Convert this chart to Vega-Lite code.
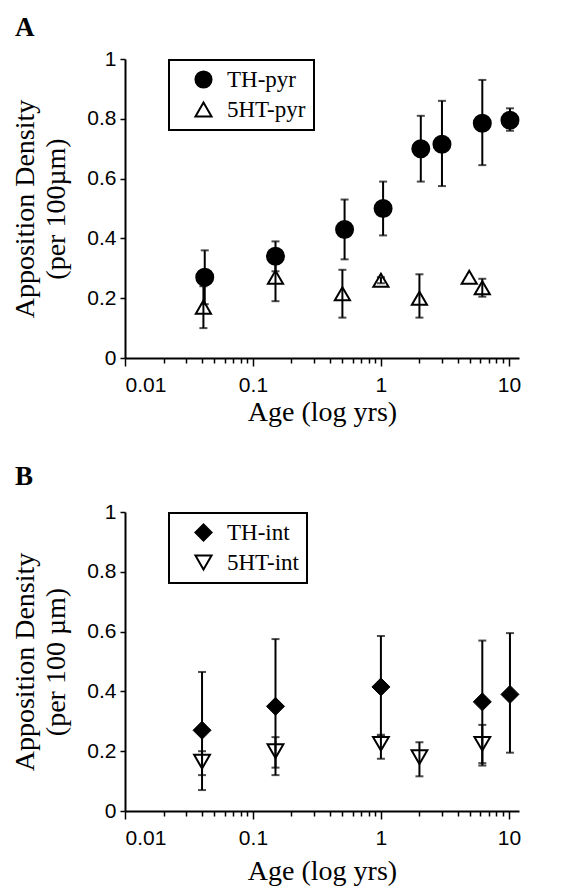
{
  "$schema": "https://vega.github.io/schema/vega-lite/v6.json",
  "background": "white",
  "padding": {"left": 11, "top": 14, "right": 5, "bottom": 5},
  "spacing": 37,
  "resolve": {"scale": {"shape": "independent", "fill": "independent", "stroke": "independent"}, "legend": {"shape": "independent", "fill": "independent", "stroke": "independent"}},
  "config": {
    "view": {"stroke": null},
    "font": "Liberation Serif",
    "axis": {"domainColor": "black", "domainWidth": 2, "tickColor": "black", "tickWidth": 1.5, "labelFont": "Liberation Sans", "labelFontSize": 21, "labelColor": "black", "titleFont": "Liberation Serif", "titleFontSize": 28, "titleFontWeight": "normal", "titleColor": "black", "grid": false, "labelOverlap": false},
    "title": {"font": "Liberation Serif", "fontSize": 27, "fontWeight": "bold", "anchor": "start", "color": "black", "frame": "group"},
    "legend": {"orient": "none", "legendX": 44, "legendY": 1, "title": null, "padding": 8, "strokeColor": "black", "strokeWidth": 2, "fillColor": "white", "labelFont": "Liberation Serif", "labelFontSize": 23, "labelColor": "black", "symbolSize": 260, "symbolStrokeWidth": 2, "symbolStrokeColor": "black", "rowPadding": 6, "labelOffset": 12, "symbolOffset": 15}
  },
  "vconcat": [
    {
      "title": {"text": "A", "dx": -110, "offset": 6},
      "width": 394,
      "height": 299,
      "data": {"values": [
        {"series": "TH-pyr", "age": 0.042, "val": 0.27, "lo": 0.18, "hi": 0.36},
        {"series": "TH-pyr", "age": 0.15, "val": 0.34, "lo": 0.29, "hi": 0.39},
        {"series": "TH-pyr", "age": 0.52, "val": 0.43, "lo": 0.33, "hi": 0.53},
        {"series": "TH-pyr", "age": 1.04, "val": 0.5, "lo": 0.41, "hi": 0.59},
        {"series": "TH-pyr", "age": 2.05, "val": 0.7, "lo": 0.59, "hi": 0.81},
        {"series": "TH-pyr", "age": 3.0, "val": 0.715, "lo": 0.575, "hi": 0.86},
        {"series": "TH-pyr", "age": 6.2, "val": 0.785, "lo": 0.645, "hi": 0.93},
        {"series": "TH-pyr", "age": 10.2, "val": 0.795, "lo": 0.76, "hi": 0.835},
        {"series": "5HT-pyr", "age": 0.041, "val": 0.17, "lo": 0.1, "hi": 0.24},
        {"series": "5HT-pyr", "age": 0.15, "val": 0.27, "lo": 0.19, "hi": 0.35},
        {"series": "5HT-pyr", "age": 0.5, "val": 0.215, "lo": 0.135, "hi": 0.295},
        {"series": "5HT-pyr", "age": 1.0, "val": 0.26, "lo": 0.25, "hi": 0.27},
        {"series": "5HT-pyr", "age": 2.0, "val": 0.2, "lo": 0.135, "hi": 0.28},
        {"series": "5HT-pyr", "age": 4.9, "val": 0.27, "lo": null, "hi": null},
        {"series": "5HT-pyr", "age": 6.2, "val": 0.235, "lo": 0.205, "hi": 0.265}
      ]},
      "encoding": {
        "x": {"field": "age", "type": "quantitative", "scale": {"type": "log", "domain": [0.01, 12], "nice": false},
          "axis": {"title": "Age (log yrs)", "values": [0.01,0.02,0.03,0.04,0.05,0.06,0.07,0.08,0.09,0.1,0.2,0.3,0.4,0.5,0.6,0.7,0.8,0.9,1,2,3,4,5,6,7,8,9,10],
            "labelExpr": "datum.value == 0.01 ? '0.01' : datum.value == 0.1 ? '0.1' : datum.value == 1 ? '1' : datum.value == 10 ? '10' : ''",
            "tickSize": {"condition": {"test": "datum.value == 0.01 || datum.value == 0.1 || datum.value == 1 || datum.value == 10", "value": 8}, "value": 5},
            "labelPadding": 8, "titlePadding": 3}}
      },
      "layer": [
        {"mark": {"type": "point", "filled": true, "size": 230, "strokeWidth": 2, "opacity": 1}, "transform": [{"filter": "datum.series == '5HT-pyr'"}],
          "encoding": {"y": {"field": "val", "type": "quantitative", "scale": {"domain": [0, 1], "nice": false},
              "axis": {"title": ["Apposition Density", "(per 100µm)"], "titleLineHeight": 31, "values": [0, 0.2, 0.4, 0.6, 0.8, 1], "format": ".1~f", "tickSize": 5, "labelPadding": 4, "titlePadding": 16}},
            "shape": {"field": "series", "type": "nominal", "scale": {"domain": ["TH-pyr", "5HT-pyr"], "range": ["circle", "triangle-up"]}},
            "fill": {"field": "series", "type": "nominal", "scale": {"domain": ["TH-pyr", "5HT-pyr"], "range": ["black", "white"]}},
            "stroke": {"field": "series", "type": "nominal", "scale": {"domain": ["TH-pyr", "5HT-pyr"], "range": ["black", "black"]}}}},
        {"mark": {"type": "rule", "strokeWidth": 2, "color": "black"},
          "encoding": {"y": {"field": "lo", "type": "quantitative"}, "y2": {"field": "hi"}}},
        {"mark": {"type": "tick", "orient": "horizontal", "size": 8, "thickness": 2, "color": "black"},
          "transform": [{"fold": ["lo", "hi"], "as": ["k", "v"]}],
          "encoding": {"y": {"field": "v", "type": "quantitative"}}},
        {"mark": {"type": "point", "filled": true, "size": 289, "strokeWidth": 2, "opacity": 1}, "transform": [{"filter": "datum.series == 'TH-pyr'"}],
          "encoding": {"y": {"field": "val", "type": "quantitative"},
            "shape": {"field": "series", "type": "nominal"},
            "fill": {"field": "series", "type": "nominal"},
            "stroke": {"field": "series", "type": "nominal"}}}
      ]
    },
    {
      "title": {"text": "B", "dx": -110, "offset": 10},
      "width": 394,
      "height": 299,
      "data": {"values": [
        {"series": "TH-int", "age": 0.04, "val": 0.27, "lo": 0.07, "hi": 0.465},
        {"series": "TH-int", "age": 0.15, "val": 0.35, "lo": 0.12, "hi": 0.575},
        {"series": "TH-int", "age": 1.0, "val": 0.415, "lo": 0.25, "hi": 0.585},
        {"series": "TH-int", "age": 6.2, "val": 0.365, "lo": 0.16, "hi": 0.57},
        {"series": "TH-int", "age": 10.2, "val": 0.39, "lo": 0.195, "hi": 0.595},
        {"series": "5HT-int", "age": 0.04, "val": 0.165, "lo": 0.12, "hi": 0.2},
        {"series": "5HT-int", "age": 0.15, "val": 0.2, "lo": 0.145, "hi": 0.247},
        {"series": "5HT-int", "age": 1.0, "val": 0.225, "lo": 0.175, "hi": 0.255},
        {"series": "5HT-int", "age": 2.0, "val": 0.18, "lo": 0.116, "hi": 0.23},
        {"series": "5HT-int", "age": 6.2, "val": 0.225, "lo": 0.152, "hi": 0.288}
      ]},
      "encoding": {
        "x": {"field": "age", "type": "quantitative", "scale": {"type": "log", "domain": [0.01, 12], "nice": false},
          "axis": {"title": "Age (log yrs)", "values": [0.01,0.02,0.03,0.04,0.05,0.06,0.07,0.08,0.09,0.1,0.2,0.3,0.4,0.5,0.6,0.7,0.8,0.9,1,2,3,4,5,6,7,8,9,10],
            "labelExpr": "datum.value == 0.01 ? '0.01' : datum.value == 0.1 ? '0.1' : datum.value == 1 ? '1' : datum.value == 10 ? '10' : ''",
            "tickSize": {"condition": {"test": "datum.value == 0.01 || datum.value == 0.1 || datum.value == 1 || datum.value == 10", "value": 8}, "value": 5},
            "labelPadding": 8, "titlePadding": 9}}
      },
      "layer": [
        {"mark": {"type": "point", "filled": true, "size": 250, "strokeWidth": 2, "opacity": 1}, "transform": [{"filter": "datum.series == '5HT-int'"}],
          "encoding": {"y": {"field": "val", "type": "quantitative", "scale": {"domain": [0, 1], "nice": false},
              "axis": {"title": ["Apposition Density", "(per 100 µm)"], "titleLineHeight": 31, "values": [0, 0.2, 0.4, 0.6, 0.8, 1], "format": ".1~f", "tickSize": 5, "labelPadding": 4, "titlePadding": 16}},
            "shape": {"field": "series", "type": "nominal", "scale": {"domain": ["TH-int", "5HT-int"], "range": ["diamond", "triangle-down"]}},
            "fill": {"field": "series", "type": "nominal", "scale": {"domain": ["TH-int", "5HT-int"], "range": ["black", "white"]}},
            "stroke": {"field": "series", "type": "nominal", "scale": {"domain": ["TH-int", "5HT-int"], "range": ["black", "black"]}}}},
        {"mark": {"type": "rule", "strokeWidth": 2, "color": "black"},
          "encoding": {"y": {"field": "lo", "type": "quantitative"}, "y2": {"field": "hi"}}},
        {"mark": {"type": "tick", "orient": "horizontal", "size": 8, "thickness": 2, "color": "black"},
          "transform": [{"fold": ["lo", "hi"], "as": ["k", "v"]}],
          "encoding": {"y": {"field": "v", "type": "quantitative"}}},
        {"mark": {"type": "point", "filled": true, "size": 324, "strokeWidth": 1, "opacity": 1}, "transform": [{"filter": "datum.series == 'TH-int'"}],
          "encoding": {"y": {"field": "val", "type": "quantitative"},
            "shape": {"field": "series", "type": "nominal"},
            "fill": {"field": "series", "type": "nominal"},
            "stroke": {"field": "series", "type": "nominal"}}}
      ]
    }
  ]
}
